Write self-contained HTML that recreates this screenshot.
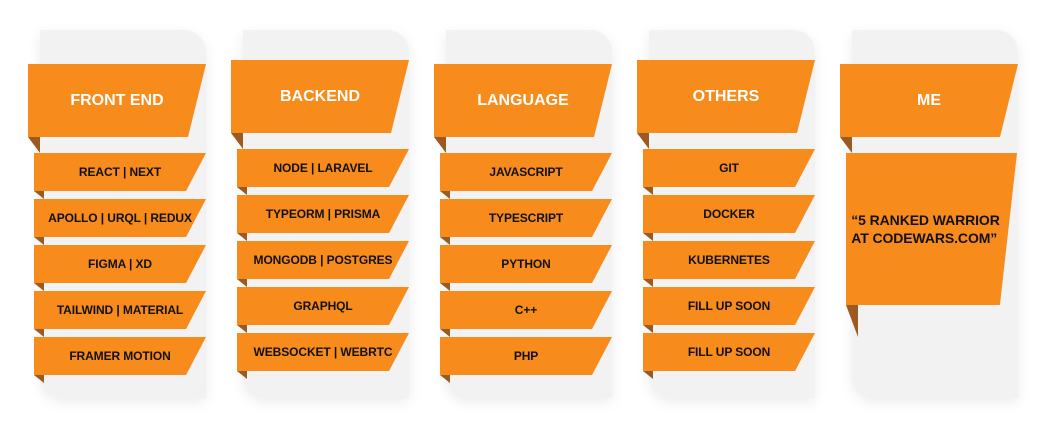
<!DOCTYPE html>
<html><head><meta charset="utf-8"><style>
body{margin:0;width:1048px;height:439px;background:#fff;position:relative;overflow:hidden;font-family:"Liberation Sans",Arial,sans-serif;}
.card{position:absolute;background:#f2f2f2;border-radius:0 22px 0 22px;box-shadow:0 4px 14px rgba(0,0,0,0.08);}
.band{position:absolute;background:#f78b1b;display:flex;align-items:center;justify-content:center;font-weight:bold;filter:drop-shadow(0 3px 4px rgba(0,0,0,0.12));}
.hdr{color:#fff;font-size:16px;}
.item{color:#111;font-size:12px;letter-spacing:-0.1px;}
.fold{position:absolute;background:#9a5a22;}
</style></head><body>
<div id="root"></div>
<script>
const titles=["FRONT END","BACKEND","LANGUAGE","OTHERS","ME"];
const items=[["REACT | NEXT","APOLLO | URQL | REDUX","FIGMA | XD","TAILWIND | MATERIAL","FRAMER MOTION"],
["NODE | LARAVEL","TYPEORM | PRISMA","MONGODB | POSTGRES","GRAPHQL","WEBSOCKET | WEBRTC"],
["JAVASCRIPT","TYPESCRIPT","PYTHON","C++","PHP"],
["GIT","DOCKER","KUBERNETES","FILL UP SOON","FILL UP SOON"]];
const root=document.getElementById('root');
function el(cls,x,y,w,h){const d=document.createElement('div');d.className=cls;d.style.left=x+'px';d.style.top=y+'px';d.style.width=w+'px';d.style.height=h+'px';root.appendChild(d);return d;}
titles.forEach((t,i)=>{
  const cx=28+i*203;
  const dy=(i===1||i===3)?-4:0;
  const c=el('card',cx+12,30,166,368);
  
  
  const f=el('fold',cx,137+dy,12,16);f.style.clipPath='polygon(0 0,100% 0,100% 100%)';
  
  
  const h=el('band hdr',cx,64+dy,178,73);h.style.clipPath='polygon(0 0,100% 0,89.9% 100%,0 100%)';
  h.textContent=t;
  
  
  if(i<4){
    items[i].forEach((s,j)=>{
      const y=153+dy+j*46;
      const ff=el('fold',cx+6,y+38,10,8);ff.style.clipPath='polygon(0 0,100% 0,100% 100%)';
      
      
      const b=el('band item',cx+6,y,172,38);b.style.clipPath='polygon(0 0,100% 0,88.4% 100%,0 100%)';
      b.textContent=s;
      
      
    });
  } else {
    const ff=el('fold',cx+6,305,12,32);ff.style.clipPath='polygon(0 0,100% 0,100% 100%)';
    
    
    const b=el('band item',cx+6,153,171,152);b.style.clipPath='polygon(0 0,100% 0,90% 100%,0 100%)';
    b.style.fontSize='14px';b.style.lineHeight='18px';b.style.textAlign='left';b.style.paddingRight='12px';b.style.boxSizing='border-box';
    b.innerHTML='“5 RANKED WARRIOR<br>AT CODEWARS.COM”';
    
    
  }
});
</script>
</body></html>
